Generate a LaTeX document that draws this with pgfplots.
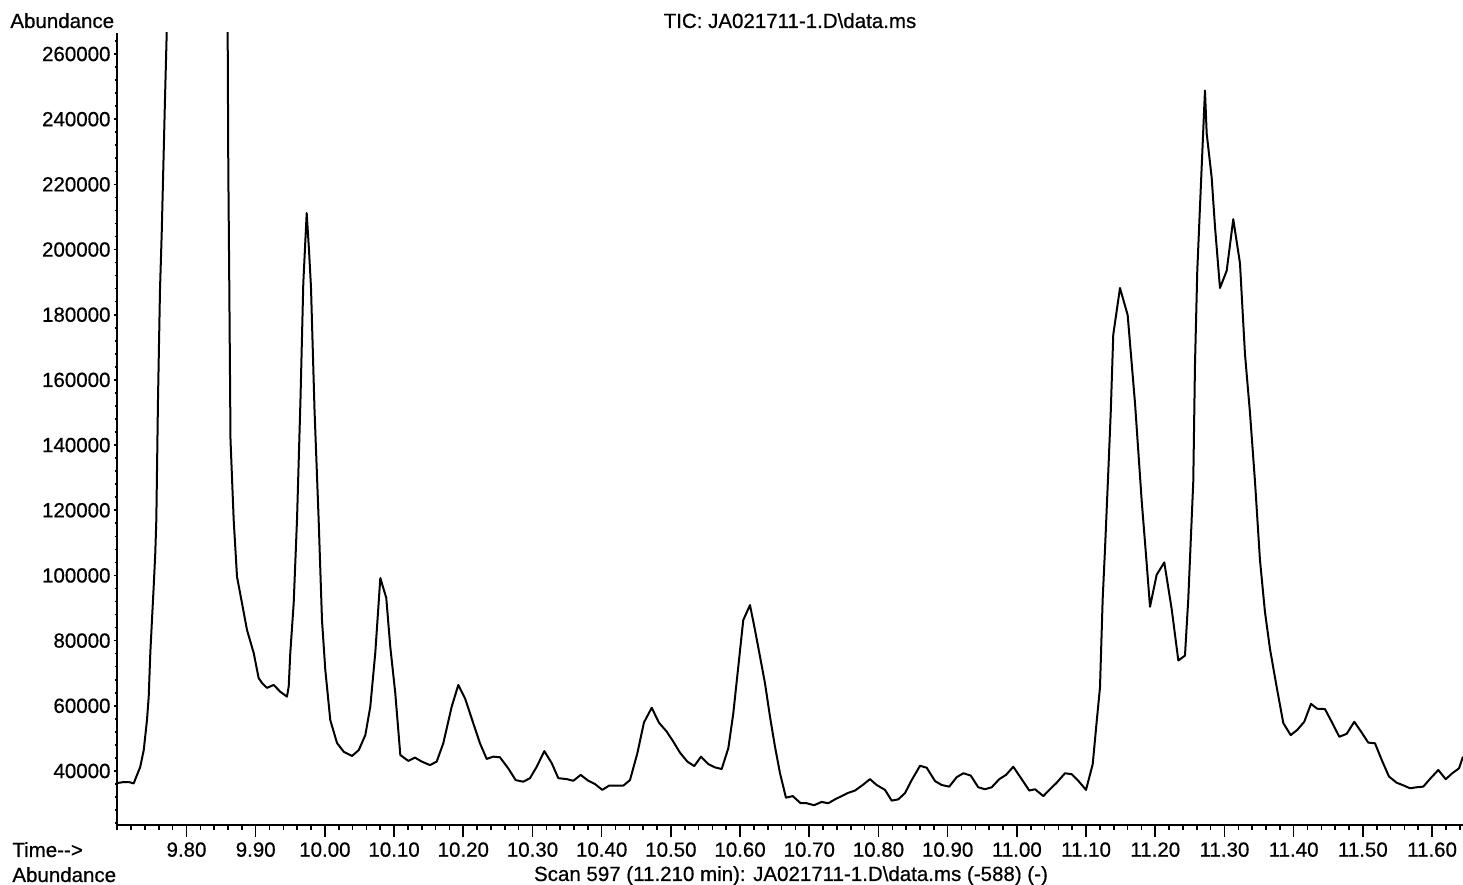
\documentclass[border=0pt]{standalone}
\usepackage{fontspec}
\setmainfont{Liberation Sans}[BoldFont={Liberation Sans}, BoldFeatures={FakeBold=0.6}]
\usepackage{pgfplots}
\pgfplotsset{compat=1.18}
\newcommand{\lbl}{\fontsize{10.25pt}{12pt}\selectfont\bfseries}
\begin{document}
\begin{tikzpicture}
\pgfplotsset{
  base/.style={
    scale only axis,
    width=672.85pt, height=396pt,
    xmin=9.70, xmax=11.6447,
    ymin=23430, ymax=266450,
    axis line style={-, line width=0.9pt},
    tick align=outside,
    tick style={line width=0.8pt, black},
    scaled y ticks=false, scaled x ticks=false,
    /pgf/number format/assume math mode=true,
    ticklabel style={font=\lbl},
  }
}
\begin{axis}[
  base,
  name=ax,
  axis x line*=bottom, axis y line*=left,
  xtick=\empty,
  ytick={40000,60000,80000,100000,120000,140000,160000,180000,200000,220000,240000,260000},
  minor ytick={24000,28000,...,264000},
  major tick length=1.8pt,
  minor tick length=1.2pt,
  yticklabel style={/tikz/inner sep=0pt, /tikz/xshift=-1.4pt, /pgf/number format/fixed, /pgf/number format/precision=0, /pgf/number format/1000 sep={}},
]
\addplot[black, line width=1pt, line join=round] coordinates {
(9.7000,36300) (9.7092,36600) (9.7165,36600) (9.7237,36200) (9.7332,41300)
(9.7382,46400) (9.7429,55600) (9.7454,62800) (9.7477,76200) (9.7501,86300)
(9.7526,96600) (9.7549,106900) (9.7564,117000) (9.7588,153800) (9.7617,187600)
(9.7642,205100) (9.7689,245900) (9.7714,266400) (9.7762,368600) (9.8152,736800)
(9.8542,368600) (9.8595,266400) (9.8604,225300) (9.8619,187600) (9.8636,141600)
(9.8682,117000) (9.8730,99600) (9.8802,91500) (9.8874,83300) (9.8971,76200)
(9.9043,68500) (9.9091,67000) (9.9163,65500) (9.9260,66400) (9.9356,64300)
(9.9452,62800) (9.9477,65900) (9.9500,76200) (9.9549,91500) (9.9597,117000)
(9.9647,153800) (9.9688,189700) (9.9737,211200) (9.9770,199900) (9.9799,188500)
(9.9850,150800) (9.9910,117000) (9.9958,86300) (10.0006,71000) (10.0078,55600)
(10.0175,48600) (10.0272,45900) (10.0392,44600) (10.0489,46400) (10.0584,51000)
(10.0656,59700) (10.0728,76200) (10.0801,99200) (10.0887,93100) (10.0945,78100)
(10.1017,63900) (10.1090,44900) (10.1205,43100) (10.1302,44100) (10.1399,42900)
(10.1519,41800) (10.1616,42900) (10.1711,48500) (10.1832,59700) (10.1928,66400)
(10.2025,62300) (10.2145,54600) (10.2241,48500) (10.2338,43700) (10.2434,44400)
(10.2530,44200) (10.2650,40800) (10.2757,37200) (10.2867,36700) (10.2964,37800)
(10.3061,41300) (10.3171,46100) (10.3278,42400) (10.3373,37800) (10.3494,37500)
(10.3590,37000) (10.3697,38800) (10.3806,37000) (10.3903,36000) (10.4009,34200)
(10.4106,35500) (10.4217,35500) (10.4312,35500) (10.4409,37200) (10.4515,45400)
(10.4611,54900) (10.4723,59400) (10.4828,54800) (10.4939,52100) (10.5035,49000)
(10.5132,45600) (10.5237,42900) (10.5338,41500) (10.5435,44400) (10.5541,42100)
(10.5637,41100) (10.5734,40600) (10.5830,47000) (10.5902,57700) (10.5974,72000)
(10.6046,86300) (10.6143,90900) (10.6215,83300) (10.6288,75100) (10.6360,66900)
(10.6432,56700) (10.6504,47500) (10.6577,39300) (10.6663,31800) (10.6760,32300)
(10.6876,30100) (10.6963,30100) (10.7068,29500) (10.7179,30500) (10.7275,30100)
(10.7372,31300) (10.7468,32300) (10.7564,33300) (10.7661,34000) (10.7772,35700)
(10.7877,37500) (10.7974,35700) (10.8094,34200) (10.8191,30900) (10.8286,31300)
(10.8383,33200) (10.8480,37200) (10.8600,41600) (10.8697,41000) (10.8817,36900)
(10.8913,35700) (10.9023,35200) (10.9130,38100) (10.9226,39300) (10.9333,38600)
(10.9442,35000) (10.9539,34400) (10.9636,35000) (10.9746,37500) (10.9843,38800)
(10.9948,41300) (11.0069,37500) (11.0179,34000) (11.0262,34400) (11.0382,32300)
(11.0478,34400) (11.0575,36400) (11.0695,39300) (11.0792,39000) (11.0887,37000)
(11.0999,34200) (11.1096,42100) (11.1153,55100) (11.1201,65600) (11.1240,92800)
(11.1273,107800) (11.1321,131800) (11.1356,149800) (11.1393,173900) (11.1490,188200)
(11.1601,179900) (11.1707,152900) (11.1804,122800) (11.1866,106300) (11.1924,90400)
(11.2020,100200) (11.2130,104000) (11.2237,89700) (11.2333,73900) (11.2429,75400)
(11.2477,92800) (11.2549,128800) (11.2574,164900) (11.2607,193500) (11.2646,213100)
(11.2718,248800) (11.2743,235600) (11.2815,222100) (11.2863,207000) (11.2935,188200)
(11.3032,193500) (11.3127,209300) (11.3224,195800) (11.3296,168000) (11.3369,149800)
(11.3441,128800) (11.3513,104700) (11.3585,88800) (11.3658,77400) (11.3754,65800)
(11.3850,54700) (11.3957,51000) (11.4052,52600) (11.4153,55100) (11.4250,60600)
(11.4341,59100) (11.4452,59000) (11.4549,55100) (11.4659,50500) (11.4766,51400)
(11.4876,55100) (11.4973,52100) (11.5078,48700) (11.5175,48500) (11.5272,43400)
(11.5377,38300) (11.5488,36400) (11.5584,35600) (11.5681,34700) (11.5777,35000)
(11.5873,35200) (11.5980,37800) (11.6090,40300) (11.6197,37500) (11.6292,39300)
(11.6389,40800) (11.6447,44400)
};
\end{axis}
\begin{axis}[
  base,
  axis x line*=bottom, axis y line=none,
  ytick=\empty,
  xtick={9.8,9.9,10.0,10.1,10.2,10.3,10.4,10.5,10.6,10.7,10.8,10.9,11.0,11.1,11.2,11.3,11.4,11.5,11.6},
  minor xtick={9.70,9.72,...,11.645},
  major tick length=6pt,
  minor tick length=2.5pt,
  xticklabel style={/tikz/inner sep=0pt, /tikz/yshift=-2.5pt, /pgf/number format/fixed, /pgf/number format/fixed zerofill, /pgf/number format/precision=2},
]
\end{axis}
\coordinate (O) at (ax.south west);
\node[anchor=base west, inner sep=0pt, font=\lbl] at ([shift={(-53.65pt,398.5pt)}]O) {Abundance};
\node[anchor=base, inner sep=0pt, font=\lbl] at ([shift={(336.35pt,398.5pt)}]O) {TIC: JA021711-1.D\textbackslash data.ms};
\node[anchor=base west, inner sep=0pt, font=\lbl] at ([shift={(-52.65pt,-16pt)}]O) {Time-{}-{}>};
\node[anchor=base west, inner sep=0pt, font=\lbl] at ([shift={(-52.65pt,-28.5pt)}]O) {Abundance};
\node[anchor=base, inner sep=0pt, font=\lbl] at ([shift={(336.85pt,-28pt)}]O) {Scan 597 (11.210 min): JA021711-1.D\textbackslash data.ms (-588) (-)};
\pgfresetboundingbox
\path ([shift={(-58.65pt,-30pt)}]O) rectangle ([shift={(0pt,16.5pt)}]ax.north east);
\end{tikzpicture}
\end{document}
